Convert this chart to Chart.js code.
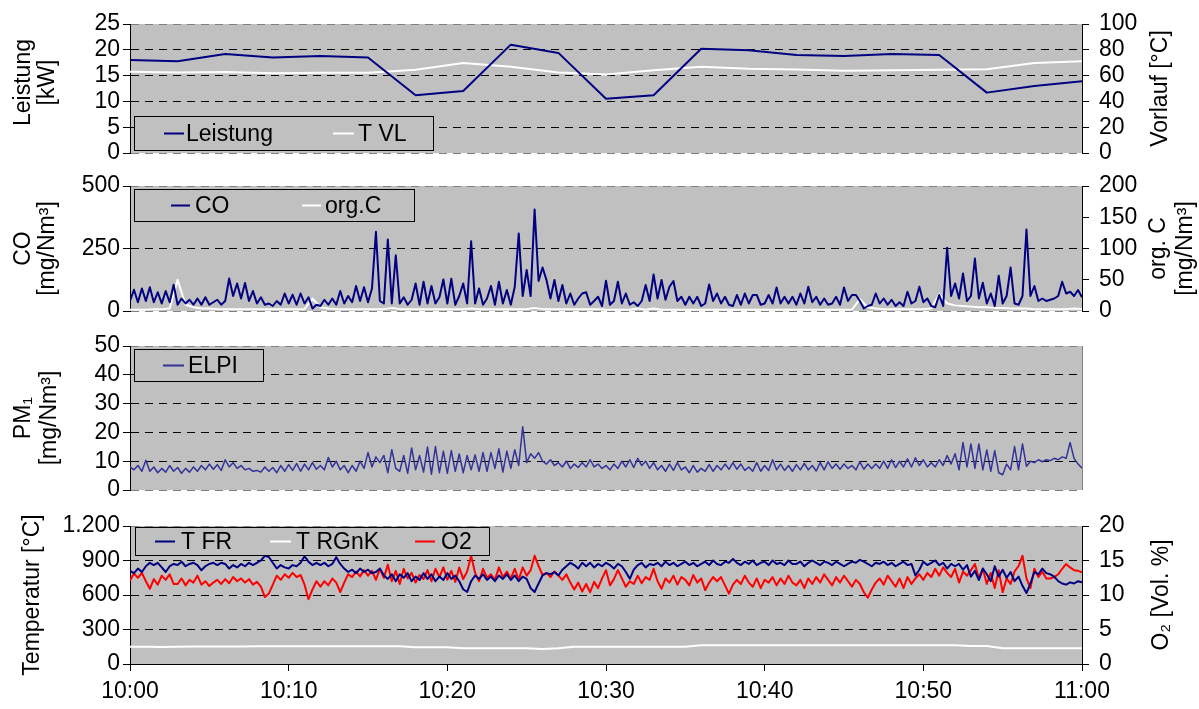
<!DOCTYPE html>
<html><head><meta charset="utf-8">
<script src="https://cdn.jsdelivr.net/npm/chart.js@4.4.1/dist/chart.umd.min.js"></script>
<style>
html,body{margin:0;padding:0;background:#fff;}
#wrap{position:relative;width:1199px;height:709px;overflow:hidden;background:#fff;}
#wrap canvas{position:absolute;left:0;top:0;}
</style></head><body>
<div id="wrap">
<canvas id="c1" width="1199" height="709"></canvas>
<canvas id="c2" width="1199" height="709"></canvas>
<canvas id="c3" width="1199" height="709"></canvas>
<canvas id="c4" width="1199" height="709"></canvas>
</div>
<script>
// ---------- data ----------
const timeTicksMin = [0, 10, 20, 30, 40, 50, 60];
const timeTickLabels = ['10:00', '10:10', '10:20', '10:30', '10:40', '10:50', '11:00'];

// panel 1 (every 3 minutes)
const leistungMin = [0,3,6,9,12,15,18,21,24,27,30,33,36,39,42,45,48,51,54,57,60];
const leistung = [18.0,17.8,19.2,18.5,18.8,18.5,11.2,12.0,21.0,19.4,10.5,11.2,20.2,19.9,19.0,18.8,19.2,19.0,11.7,13.0,13.9];
const tVL = [63.0,62.4,62.7,61.9,62.2,62.2,64.5,69.7,66.8,62.4,60.9,64.2,66.8,65.3,64.8,63.7,64.2,64.5,65.0,69.7,71.2];

// panel 2 (CO every 0.25 min, org.C every 0.5 min)
const coStepMin = 0.25;
const co = [
 40,85,35,90, 40,95,35,75, 30,80,35,105, 25,50,30,45, 25,50,25,55,
 25,35,45,25, 40,130,60,110, 50,112,40,80, 30,55,25,30, 20,40,25,70,
 30,65,25,70, 30,55,10,25, 20,45,25,50, 25,80,30,60, 35,100,40,95,
 35,90,317,40, 30,286,30,223, 30,55,25,45, 110,25,117,30, 100,30,55,126,
 30,129,25,60, 110,30,279,30, 90,25,50,100, 25,117,30,84, 25,97,310,60,
 164,60,406,120, 174,124,50,124, 40,104,30,70, 25,50,70,75, 25,40,57,20,
 121,25,40,117, 30,70,25,35, 20,40,104,40, 146,50,124,45, 97,120,40,57,
 25,57,30,57, 20,30,106,40, 70,30,57,25, 20,64,25,70, 30,64,64,25,
 30,64,30,94, 30,57,30,57, 25,70,30,97, 35,57,25,50, 25,30,57,25,
 94,40,64,64, 40,10,20,25, 70,30,50,25, 45,20,35,20, 77,30,40,97,
 35,50,20,15, 64,20,253,60, 110,50,150,40, 60,210,50,113, 30,70,20,141,
 30,60,174,30, 25,60,326,60, 100,40,50,40, 45,50,60,117, 70,77,60,84,
 55];
const orgCStepMin = 0.5;
const orgC = [
 2,2,2,3,3,4, 50, 10,6,4,4,3,
 3,3,3,3,3,3,3,3,3,3,3, 20, 6,4,3,3,
 3,3,3,3,3,5,3,3,3,3,3,3,3,3,3,4,
 3,3,3,3,3,3,3,5,3,3,3,3,3,3,3,3,
 2,2,2,2,4,2,4,2,2,2,2,2,2,2,2,2,
 2,2,2,2,2,2,2,2,2,2,2,2,2,2,2,2,
 19, 6,4,3,3,3,3,3,3,4, 27,
 12,9,8,7,6,6,5,5,4,4,4,3,3,3,3,3,4,3];

// panel 3 (ELPI every 0.25 min)
const elpiStepMin = 0.25;
const elpi = [
 8,7,8.5,6.5, 10.3,6.5,8,6, 7.5,6.2,8.5,6.5, 7.8,5.8,7.5,6.2, 8,6.5,8.5,7,
 9,7.2,8.8,6.8, 10.5,8,9.5,7.5, 8.5,7,7.5,6.5, 6.8,6.2,8,6.5, 7.8,6,8.5,6.5,
 8.8,6.8,9.2,6.5, 9,7,9.5,7.2, 8.5,7,11.3,8, 10,7,8.5,6, 8.5,6.5,10,7.5,
 13,8,11.5,9.5, 12,6,14,7.5, 6.5,12,5.8,14.6, 7,12,6.2,14.9, 5.5,15.1,6,13.5,
 5.8,13.7,6.5,12.5, 6,12,7,12.2, 6.5,13,6.5,13, 7.5,14.3,6.2,13.5, 7.5,14,8.5,22,
 9.5,12.6,11,13, 10,9,10.5,8.5, 9.5,8,10,7.5, 9,7.8,9.5,8, 10.5,8,9,7.5,
 8.5,7,9,7.5, 10,8,10.5,7.8, 11,8.5,10,7.5, 9.5,7,8.5,6.5, 9,6.8,9.5,7,
 8,6,8.5,6.2, 7.5,6.5,8.8,6.5, 8.5,7,9,7.2, 9.5,7.2,9,6.8, 8,6.5,9.5,6.5,
 8.5,6.8,10.5,7, 9,6.8,8.5,6.5, 8.8,7,9.2,7, 8.5,6.6,9.5,7, 9.8,7.5,9,7.2,
 9,7.5,8.5,7, 9.8,7.2,9,7.5, 9,7.5,10,7.5, 10.5,7.8,10,8, 10.8,8,11.2,8.5,
 10.5,8,9.5,8, 10.5,8.5,12,9, 12.6,7,16.5,8, 16,7.5,16,7, 13.9,6.5,13.7,6,
 5.3,9,7,15.1, 7,16,8.2,10, 9.5,10.5,9.8,10.5, 10.2,11,10.5,11.5, 11,16.5,11,9,
 7.6];

// panel 4 (T FR and O2 every 0.25 min, T RGnK every minute)
const tempStepMin = 0.25;
const tFR = [
 810,790,830,800, 850,880,860,880, 840,800,850,870, 860,890,850,870, 880,860,815,850,
 870,880,860,880, 870,830,860,840, 870,850,880,860, 880,900,940,930, 880,830,860,840,
 830,860,850,880, 937,890,860,880, 860,880,850,870, 929,870,830,800, 820,790,830,800,
 820,790,800,830, 770,740,780,720, 780,750,790,720, 760,730,790,740, 780,720,760,730,
 790,740,770,720, 650,626,720,770, 740,780,730,760, 720,770,740,780, 730,770,720,760,
 740,660,626,700, 770,790,780,800, 770,820,850,880, 860,830,880,850, 880,840,870,850,
 880,860,830,870, 850,800,741,820, 860,880,840,870, 860,880,850,890, 860,880,850,870,
 890,860,880,850, 870,890,860,900, 870,860,890,880, 914,880,860,890, 870,900,860,880,
 890,860,900,870, 880,860,900,870, 870,890,850,880, 900,880,860,890, 880,860,890,870,
 850,870,890,880, 906,890,870,850, 880,870,890,860, 880,850,870,890, 860,870,770,820,
 890,860,880,900, 860,880,830,870, 850,870,820,860, 760,810,730,830, 780,720,850,760,
 820,750,800,720, 760,680,617,700, 800,780,830,790, 780,760,720,700, 690,710,700,720,
 710];
const o2 = [
 12.1,13.1,12.5,13.2, 12.0,10.9,12.3,11.5, 12.8,12.2,13.0,11.6, 11.6,12.4,11.4,12.2, 11.8,12.8,11.5,12.0,
 11.3,11.8,12.2,11.6, 12.3,11.7,12.6,12.0, 12.4,11.8,12.3,11.5, 11.9,11.2,9.7,10.2, 11.5,12.8,12.2,13.0,
 12.5,13.2,12.6,12.9, 11.5,9.4,10.8,12.0, 11.2,12.0,11.4,12.4, 11.8,10.4,11.8,13.0, 12.6,13.4,12.7,13.6,
 12.8,13.5,12.2,13.8, 12.5,14.4,12.0,13.5, 11.6,13.8,12.4,13.2, 11.8,12.9,12.3,13.6, 12.0,13.8,12.6,14.0,
 12.2,13.5,11.9,14.0, 12.3,13.4,15.7,13.2, 12.0,13.8,12.5,13.0, 12.2,14.0,12.6,13.4, 12.4,13.8,12.2,14.0,
 12.8,13.6,15.7,14.2, 12.9,13.2,12.6,13.4, 12.8,12.2,13.0,11.8, 10.8,11.8,10.5,11.6, 10.4,11.9,11.0,12.4,
 13.6,11.4,12.3,13.6, 12.4,11.2,12.0,11.6, 12.8,11.7,12.6,12.2, 13.8,12.0,10.9,12.4, 11.8,12.8,11.5,12.6,
 12.2,11.4,12.9,11.8, 12.4,10.7,11.8,12.6, 12.0,12.6,11.4,10.2, 11.5,12.2,11.6,12.8, 11.8,11.2,12.4,11.0,
 12.2,11.8,12.6,11.4, 12.4,11.6,12.8,11.8, 11.4,12.2,11.0,12.4, 11.6,12.6,11.8,13.0, 12.2,11.4,12.6,11.8,
 12.8,12.0,11.2,12.2, 11.6,10.4,9.6,10.8, 11.8,12.4,11.5,12.8, 12.0,11.2,12.4,11.0, 12.6,11.6,12.4,13.0,
 12.2,13.2,12.6,13.8, 12.8,14.0,13.2,12.6, 13.8,11.8,13.4,12.8, 13.6,14.5,12.4,13.8, 11.6,13.2,11.0,13.6,
 10.4,12.4,11.6,13.4, 14.2,15.7,12.4,11.0, 13.8,12.6,13.4,12.4, 12.4,12.6,13.0,13.8, 14.5,14.0,13.6,13.5,
 13.3];
const tRGnKStepMin = 1;
const tRGnK = [
 150,150,148,150,152,152,152,152,155,155,155,155,155,155,155,155,155,155,
 145,145,145,
 138,138,138,138,138,130,138,
 150,150,150,150,150,150,150,150,
 162,162,162,162,162,162,162,162,162,162,162,162,162,162,162,162,162,
 156,156,
 136,136,136,136,136,136];

// ---------- helpers ----------
const FONT = "'Liberation Sans', Arial, sans-serif";
const tickFont = {family: FONT, size: 23};
const NAVY = '#000080', SLATE = '#333399', RED = '#FF0000', WHITE = '#FFFFFF';
const PLOT = '#C0C0C0', EDGE = '#808080';

const stepSeries = (vals, step) => vals.map((v, i) => ({x: i * step, y: v}));
const pairSeries = (xs, ys) => xs.map((x, i) => ({x, y: ys[i]}));
const deNum = v => {
  const s = String(Math.round(v));
  return s.length > 3 ? s.slice(0, s.length - 3) + '.' + s.slice(-3) : s;
};

function line(label, data, color, width) {
  return {label, data, borderColor: color, backgroundColor: color, borderWidth: width,
          pointRadius: 0, tension: 0, fill: false, borderJoinStyle: 'round'};
}

function xAxis(show) {
  return {
    type: 'linear', min: 0, max: 60, display: show,
    ticks: {stepSize: 10, autoSkip: false, maxRotation: 0, color: '#000', font: tickFont, padding: 7,
            callback: v => { const i = timeTicksMin.indexOf(v); return i >= 0 ? timeTickLabels[i] : ''; }},
    grid: {drawOnChartArea: false, tickLength: 7, color: '#000', tickColor: '#000'},
    border: {color: '#000', width: 1},
    afterFit: s => { s.height = show ? 45 : 0; }
  };
}
function leftAxis(min, max, step, bottomEdge) {
  return {
    type: 'linear', position: 'left', min, max,
    ticks: {stepSize: step, color: '#000', font: tickFont, padding: 3, autoSkip: false, callback: v => deNum(v)},
    grid: {tickLength: 7, tickColor: '#000', lineWidth: 1,
           color: c => { const v = c.tick ? c.tick.value : null;
                         if (v === max) return EDGE; if (v === min) return bottomEdge; return '#000'; }},
    border: {color: '#000', width: 1, dash: [8, 6]},
    afterFit: s => { s.width = 130; }
  };
}
function rightAxis(min, max, step) {
  return {
    type: 'linear', position: 'right', min, max,
    ticks: {stepSize: step, color: '#000', font: tickFont, padding: 10, autoSkip: false, callback: v => deNum(v)},
    grid: {drawOnChartArea: false, tickLength: 7, tickColor: '#000', color: '#000'},
    border: {color: '#000', width: 1},
    afterFit: s => { s.width = 117; }
  };
}

const panelPlugin = {
  id: 'panel',
  beforeDraw(chart, args, o) {
    const {ctx, chartArea: a} = chart;
    ctx.save();
    ctx.fillStyle = PLOT;
    ctx.fillRect(a.left, a.top, a.right - a.left, a.bottom - a.top);
    ctx.restore();
  },
  afterDraw(chart, args, o) {
    const {ctx, chartArea: a} = chart;
    ctx.save();
    if (o.rightBorder) {
      ctx.strokeStyle = o.rightBorder; ctx.lineWidth = 1;
      ctx.beginPath(); ctx.moveTo(a.right + 0.5, a.top); ctx.lineTo(a.right + 0.5, a.bottom); ctx.stroke();
    }
    ctx.fillStyle = '#000';
    ctx.font = `23px ${FONT}`;
    ctx.textAlign = 'center'; ctx.textBaseline = 'middle';
    const yc = (a.top + a.bottom) / 2;
    (o.titles || []).forEach(t => {
      t.lines.forEach((txt, i) => {
        ctx.save();
        ctx.translate(t.x[i], yc + (t.dy || 0));
        ctx.rotate(-Math.PI / 2);
        ctx.fillText(txt, 0, 0);
        ctx.restore();
      });
    });
    const L = o.legend;
    if (L) {
      const [bx, by, bw, bh] = L.box;
      ctx.fillStyle = PLOT; ctx.fillRect(bx, by, bw, bh);
      ctx.strokeStyle = '#000'; ctx.lineWidth = 1; ctx.strokeRect(bx + 0.5, by + 0.5, bw, bh);
      ctx.font = `23px ${FONT}`; ctx.textAlign = 'left'; ctx.textBaseline = 'middle';
      const cy = by + bh / 2 + 0.5;
      L.items.forEach(it => {
        const ds = chart.data.datasets[it.ds];
        ctx.strokeStyle = ds.borderColor; ctx.lineWidth = 2;
        ctx.beginPath(); ctx.moveTo(it.line[0], cy); ctx.lineTo(it.line[1], cy); ctx.stroke();
        ctx.fillStyle = '#000'; ctx.fillText(ds.label, it.text, cy + 1);
      });
    }
    ctx.restore();
  }
};

function makeChart(id, datasets, scales, padding, panel) {
  return new Chart(document.getElementById(id), {
    type: 'line',
    data: {datasets},
    options: {
      responsive: false, animation: false, devicePixelRatio: 1, events: [],
      layout: {padding},
      scales,
      plugins: {legend: {display: false}, tooltip: {enabled: false}, panel}
    },
    plugins: [panelPlugin]
  });
}

// ---------- panel 1 ----------
makeChart('c1', [
  line('Leistung', pairSeries(leistungMin, leistung), NAVY, 2),
  Object.assign(line('T VL', pairSeries(leistungMin, tVL), WHITE, 2), {yAxisID: 'y2'})
], {x: xAxis(false), y: leftAxis(0, 25, 5, EDGE), y2: rightAxis(0, 100, 20)},
{top: 24, bottom: 556, left: 0, right: 0},
{titles: [{lines: ['Leistung', '[kW]'], x: [24, 48], dy: -6}, {lines: ['Vorlauf [°C]'], x: [1161]}],
 legend: {box: [134, 116, 299, 34], items: [{ds: 0, line: [164, 184], text: 186}, {ds: 1, line: [333, 354], text: 358}]}});

// ---------- panel 2 ----------
makeChart('c2', [
  line('CO', stepSeries(co, coStepMin), NAVY, 2),
  Object.assign(line('org.C', stepSeries(orgC, orgCStepMin), WHITE, 2), {yAxisID: 'y2'})
], {x: xAxis(false), y: leftAxis(0, 500, 250, EDGE), y2: rightAxis(0, 200, 50)},
{top: 186, bottom: 398, left: 0, right: 0},
{titles: [{lines: ['CO', '[mg/Nm³]'], x: [24, 48]}, {lines: ['org. C', '[mg/Nm³]'], x: [1159, 1186]}],
 legend: {box: [134, 189, 280, 32], items: [{ds: 0, line: [171, 190], text: 195}, {ds: 1, line: [302, 321], text: 325}]}});

// ---------- panel 3 ----------
makeChart('c3', [
  line('ELPI', stepSeries(elpi, elpiStepMin), SLATE, 1.5)
], {x: xAxis(false), y: leftAxis(0, 50, 10, EDGE)},
{top: 346, bottom: 219, left: 0, right: 117},
{rightBorder: EDGE,
 titles: [{lines: ['PM₁', '[mg/Nm³]'], x: [24, 50]}],
 legend: {box: [134, 349, 129, 32], items: [{ds: 0, line: [163, 184], text: 188}]}});

// ---------- panel 4 ----------
makeChart('c4', [
  line('T FR', stepSeries(tFR, tempStepMin), NAVY, 2),
  line('T RGnK', stepSeries(tRGnK, tRGnKStepMin), WHITE, 2),
  Object.assign(line('O2', stepSeries(o2, tempStepMin), RED, 2), {yAxisID: 'y2'})
], {x: xAxis(true), y: leftAxis(0, 1200, 300, 'rgba(0,0,0,0)'), y2: rightAxis(0, 20, 5)},
{top: 526, bottom: 0, left: 0, right: 0},
{titles: [{lines: ['Temperatur [°C]'], x: [33]}, {lines: ['O₂ [Vol. %]'], x: [1162]}],
 legend: {box: [135, 527, 354, 28], items: [{ds: 0, line: [155, 175], text: 181}, {ds: 1, line: [270, 291], text: 296}, {ds: 2, line: [415, 435], text: 441}]}});
</script>
</body></html>
